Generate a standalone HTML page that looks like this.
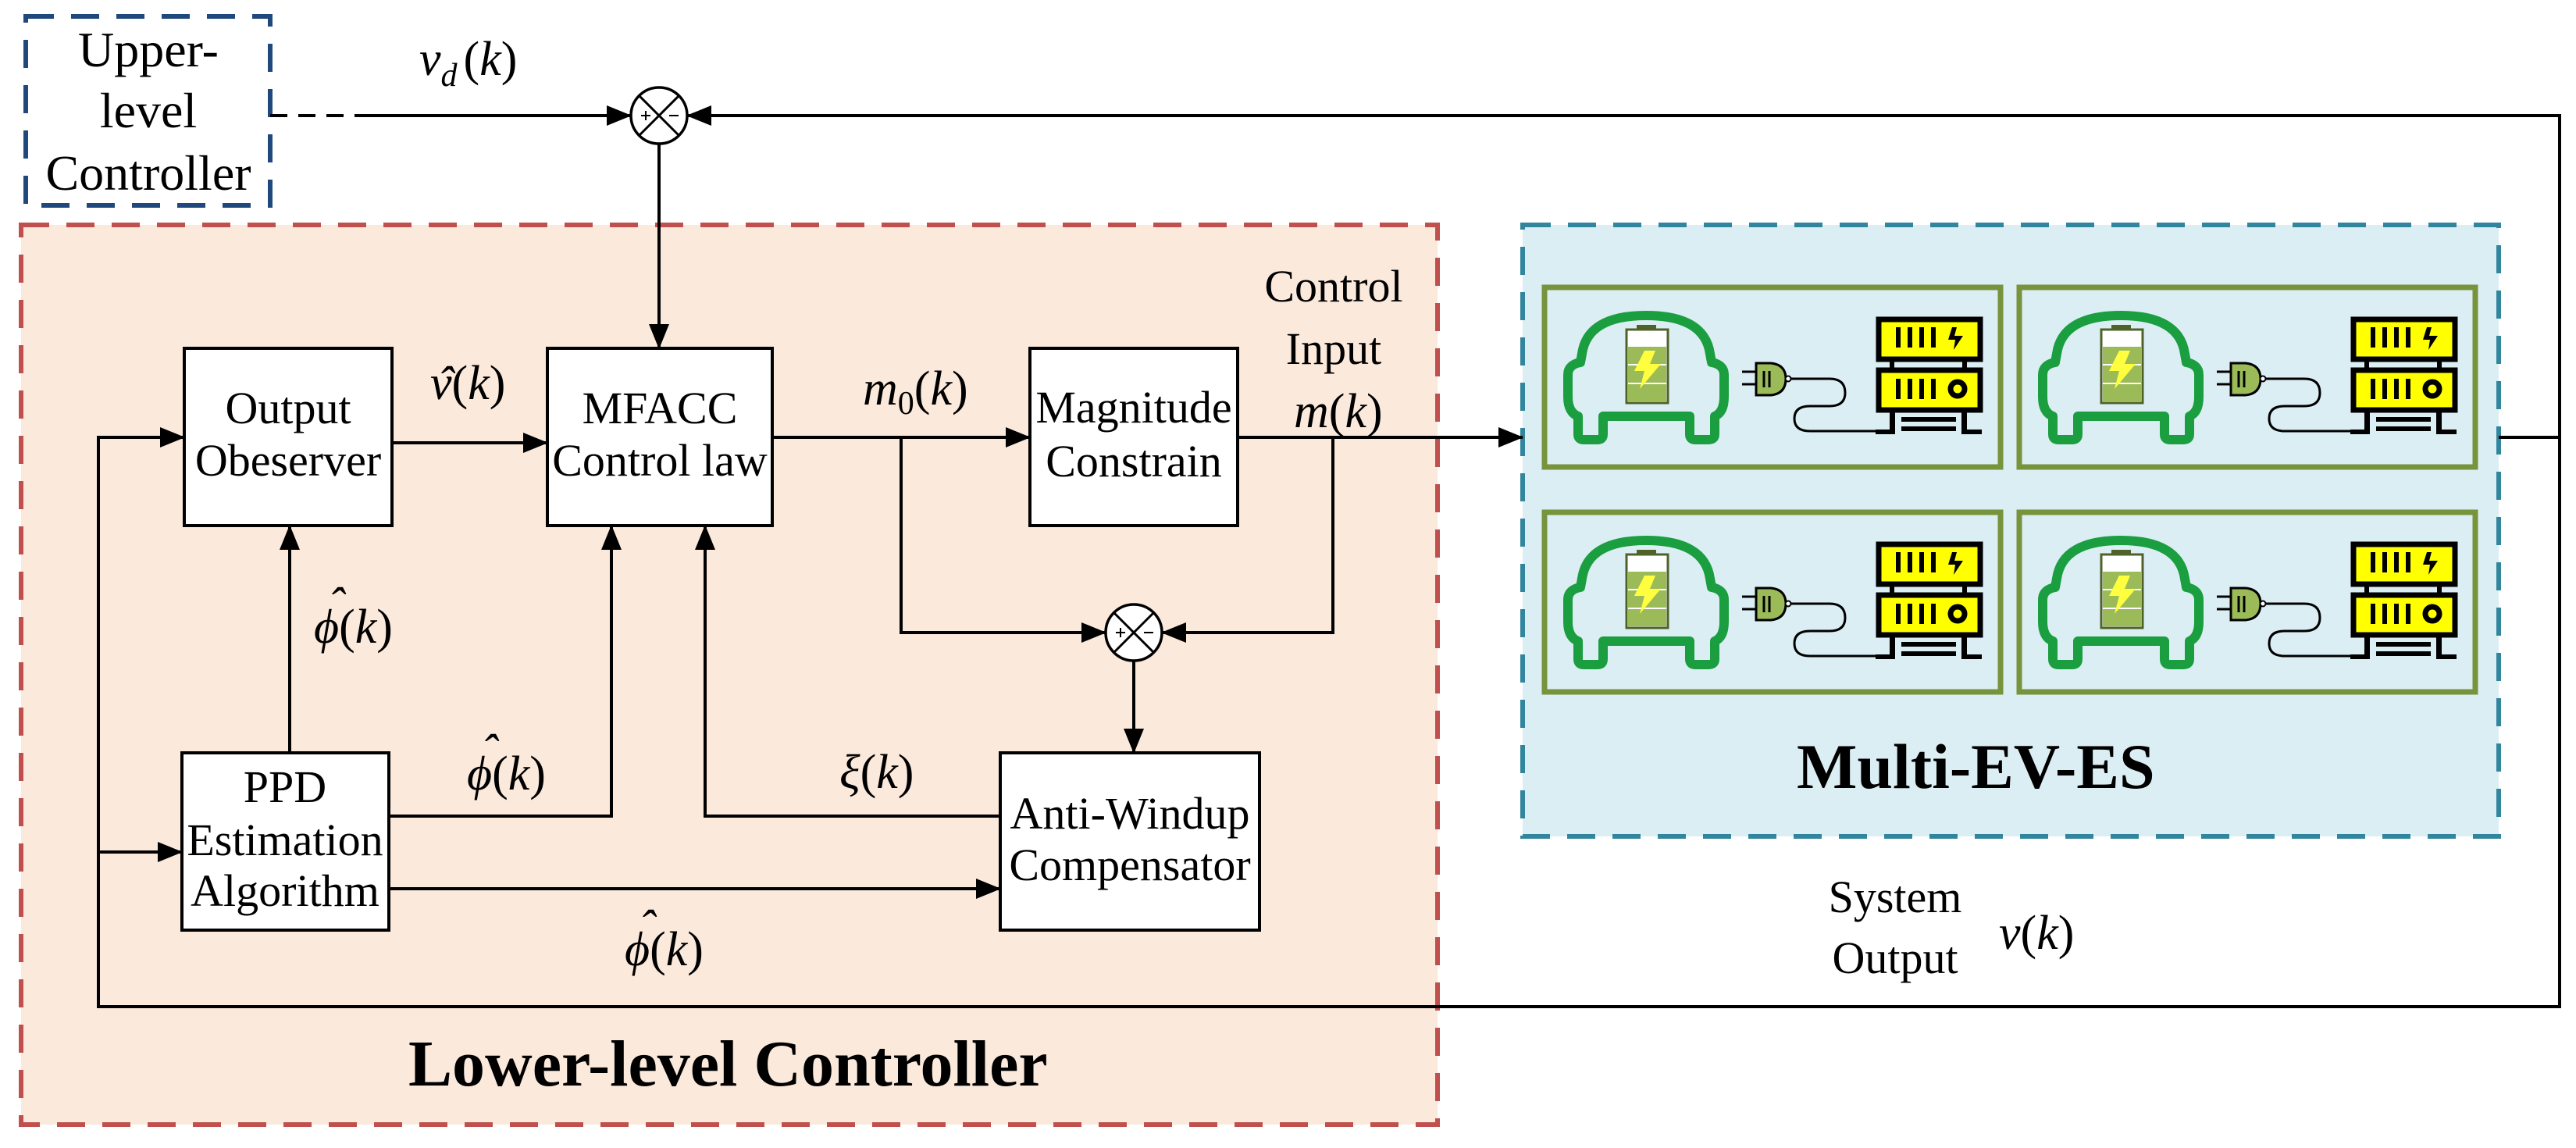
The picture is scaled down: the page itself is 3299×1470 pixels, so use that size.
<!DOCTYPE html>
<html><head><meta charset="utf-8"><style>
html,body{margin:0;padding:0;background:#fff;}
svg{display:block;}
text{font-family:"Liberation Serif","Times New Roman",serif;fill:#000;}
.b{font-size:58px;text-anchor:middle;}
.m{font-size:62px;font-style:italic;}
.u{font-style:normal;}
</style></head><body>
<svg width="3299" height="1470" viewBox="0 0 3299 1470" xmlns="http://www.w3.org/2000/svg" font-family="Liberation Serif, serif">
<defs>
<marker id="a" markerWidth="32" markerHeight="26" refX="31" refY="13" orient="auto" markerUnits="userSpaceOnUse">
<path d="M0,0 L32,13 L0,26 Z" fill="#000"/></marker>
<g id="ev">
<rect x="0" y="0" width="584" height="230" fill="none" stroke="#77933c" stroke-width="7"/>
<path d="M75,165 L186,165 L186,188 Q186,195 193,195 L210,195 Q218,195 218,188 L218,165 Q230,160 230,140 L230,112 Q230,99 214,96 L212,85 Q205,36 130,36 Q55,36 48,85 L46,96 Q30,99 30,112 L30,140 Q30,160 43,165 L43,188 Q43,195 50,195 L68,195 Q75,195 75,188 Z" fill="none" stroke="#1a9e3f" stroke-width="12" stroke-linejoin="round"/>
<rect x="118" y="48" width="25" height="6" fill="#4f6228"/>
<rect x="105" y="54" width="53" height="94" fill="#fff" stroke="#4f6228" stroke-width="3"/>
<rect x="107" y="76" width="49" height="70" fill="#9bbb59"/>
<line x1="107" y1="99" x2="156" y2="99" stroke="#fff" stroke-width="2"/>
<line x1="107" y1="123" x2="156" y2="123" stroke="#fff" stroke-width="2"/>
<path d="M128,81 L142,81 L135,98 L149,98 L122,130 L128,107 L115,107 Z" fill="#ffff40"/>
<line x1="253" y1="108" x2="272" y2="108" stroke="#000" stroke-width="3"/>
<line x1="253" y1="124" x2="272" y2="124" stroke="#000" stroke-width="3"/>
<path d="M271,97 L290,97 Q309,99 309,117 Q309,136 290,138 L271,138 Z" fill="#9bbb59" stroke="#000" stroke-width="3"/>
<line x1="281" y1="107" x2="281" y2="128" stroke="#000" stroke-width="3"/>
<line x1="288" y1="107" x2="288" y2="128" stroke="#000" stroke-width="3"/>
<circle cx="312" cy="117" r="3.5" fill="#fff" stroke="#000" stroke-width="2"/>
<path d="M315,117 L365,117 Q385,117 385,135 Q385,152 365,152 L340,152 Q320,152 320,168 Q320,184 340,184 L430,184" fill="none" stroke="#000" stroke-width="3"/>
<rect x="428" y="41" width="130" height="51" fill="#ffff00" stroke="#000" stroke-width="7"/>
<rect x="428" y="106" width="130" height="51" fill="#ffff00" stroke="#000" stroke-width="7"/>
<rect x="442" y="92" width="6" height="14" fill="#000"/><rect x="535" y="92" width="6" height="14" fill="#000"/>
<g fill="#000"><rect x="450" y="51" width="6" height="26"/><rect x="465" y="51" width="6" height="26"/><rect x="480" y="51" width="6" height="26"/><rect x="495" y="51" width="6" height="26"/>
<rect x="450" y="117" width="6" height="26"/><rect x="465" y="117" width="6" height="26"/><rect x="480" y="117" width="6" height="26"/><rect x="495" y="117" width="6" height="26"/>
<path d="M522,51 L528,51 L525,62 L536,62 L524,80 L526,67 L517,67 Z"/>
<rect x="442" y="157" width="7" height="30"/><rect x="534" y="157" width="7" height="30"/>
<rect x="424" y="182" width="25" height="6"/><rect x="534" y="182" width="26" height="6"/>
<rect x="457" y="166" width="70" height="6"/><rect x="457" y="178" width="70" height="6"/></g>
<circle cx="529" cy="130" r="9" fill="none" stroke="#000" stroke-width="7"/>
</g>
</defs>

<rect x="27" y="288" width="1814" height="1152" fill="#fbe9dc" stroke="#c0504d" stroke-width="6" stroke-dasharray="36,22"/>
<rect x="1950" y="288" width="1250" height="783" fill="#dbeef4" stroke="#31859c" stroke-width="6" stroke-dasharray="36,22"/>
<rect x="33" y="21" width="313" height="242" fill="#fff" stroke="#1f497d" stroke-width="6" stroke-dasharray="36,22"/>

<use href="#ev" x="1978" y="368"/>
<use href="#ev" x="2586" y="368"/>
<use href="#ev" x="1978" y="656"/>
<use href="#ev" x="2586" y="656"/>

<g fill="#fff" stroke="#000" stroke-width="4">
<rect x="236" y="446" width="266" height="227"/>
<rect x="701" y="446" width="288" height="227"/>
<rect x="1319" y="446" width="266" height="227"/>
<rect x="1281" y="964" width="332" height="227"/>
<rect x="233" y="964" width="265" height="227"/>
</g>
<g fill="#fff" stroke="#000" stroke-width="3.5">
<circle cx="844" cy="148" r="36"/>
<circle cx="1452" cy="810" r="36"/>
</g>
<g stroke="#000" stroke-width="3">
<line x1="819" y1="123" x2="869" y2="173"/><line x1="869" y1="123" x2="819" y2="173"/>
<line x1="1427" y1="785" x2="1477" y2="835"/><line x1="1477" y1="785" x2="1427" y2="835"/>
<line x1="821" y1="148" x2="833" y2="148" stroke-width="2"/><line x1="827" y1="142" x2="827" y2="154" stroke-width="2"/>
<line x1="857" y1="148" x2="869" y2="148" stroke-width="2"/>
<line x1="1429" y1="810" x2="1441" y2="810" stroke-width="2"/><line x1="1435" y1="804" x2="1435" y2="816" stroke-width="2"/>
<line x1="1465" y1="810" x2="1477" y2="810" stroke-width="2"/>
</g>

<g fill="none" stroke="#000" stroke-width="4">
<line x1="346" y1="148" x2="470" y2="148" stroke-dasharray="22,14"/>
<path d="M470,148 L808,148" marker-end="url(#a)"/>
<path d="M3200,560 L3278,560 L3278,148 L880,148" marker-end="url(#a)"/>
<path d="M844,184 L844,446" marker-end="url(#a)"/>
<path d="M502,567 L701,567" marker-end="url(#a)"/>
<path d="M989,560 L1319,560" marker-end="url(#a)"/>
<path d="M1154,560 L1154,810 L1416,810" marker-end="url(#a)"/>
<path d="M1585,560 L1950,560" marker-end="url(#a)"/>
<path d="M1707,560 L1707,810 L1488,810" marker-end="url(#a)"/>
<path d="M1452,846 L1452,964" marker-end="url(#a)"/>
<path d="M1281,1045 L903,1045 L903,673" marker-end="url(#a)"/>
<path d="M498,1045 L783,1045 L783,673" marker-end="url(#a)"/>
<path d="M371,964 L371,673" marker-end="url(#a)"/>
<path d="M498,1138 L1281,1138" marker-end="url(#a)"/>
<path d="M3278,560 L3278,1289 L126,1289 L126,560 L236,560" marker-end="url(#a)"/>
<path d="M126,1091 L233,1091" marker-end="url(#a)"/>
</g>

<g style="font-size:64px;text-anchor:middle">
<text x="190" y="85">Upper-</text><text x="190" y="163">level</text><text x="190" y="243">Controller</text>
</g>
<text class="b" x="369" y="542">Output</text><text class="b" x="369" y="609">Obeserver</text>
<text class="b" x="845" y="542">MFACC</text><text class="b" x="845" y="609">Control law</text>
<text class="b" x="1452" y="541">Magnitude</text><text class="b" x="1452" y="610">Constrain</text>
<text class="b" x="1447" y="1061">Anti-Windup</text><text class="b" x="1447" y="1127">Compensator</text>
<text class="b" x="365" y="1027">PPD</text><text class="b" x="365" y="1095">Estimation</text><text class="b" x="365" y="1160">Algorithm</text>
<text class="b" x="1708" y="386">Control</text><text class="b" x="1708" y="466">Input</text>
<text class="b" x="2427" y="1168">System</text><text class="b" x="2427" y="1246">Output</text>

<text class="m" x="537" y="96">v<tspan font-size="42" dy="14">d</tspan><tspan class="u" dy="-14" dx="8">(</tspan>k<tspan class="u">)</tspan></text>
<text class="m" x="551" y="511">v<tspan class="u">(</tspan>k<tspan class="u">)</tspan></text>
<text class="m" x="560" y="512">ˆ</text>
<text class="m" x="1105" y="518">m<tspan class="u" font-size="42" dy="12">0</tspan><tspan class="u" dy="-12">(</tspan>k<tspan class="u">)</tspan></text>
<text class="m" x="1657" y="547">m<tspan class="u">(</tspan>k<tspan class="u">)</tspan></text>
<text class="m" x="1075" y="1009">ξ<tspan class="u">(</tspan>k<tspan class="u">)</tspan></text>
<text class="m" x="2560" y="1215">v<tspan class="u">(</tspan>k<tspan class="u">)</tspan></text>
<text class="m" x="402" y="823">ϕ<tspan class="u">(</tspan>k<tspan class="u">)</tspan></text>
<text class="m" x="420" y="795">ˆ</text>
<text class="m" x="598" y="1011">ϕ<tspan class="u">(</tspan>k<tspan class="u">)</tspan></text>
<text class="m" x="616" y="983">ˆ</text>
<text class="m" x="800" y="1236">ϕ<tspan class="u">(</tspan>k<tspan class="u">)</tspan></text>
<text class="m" x="818" y="1208">ˆ</text>

<text x="523" y="1390" style="font-size:84px;font-weight:bold">Lower-level Controller</text>
<text x="2301" y="1009" style="font-size:82px;font-weight:bold">Multi-EV-ES</text>
</svg>
</body></html>
